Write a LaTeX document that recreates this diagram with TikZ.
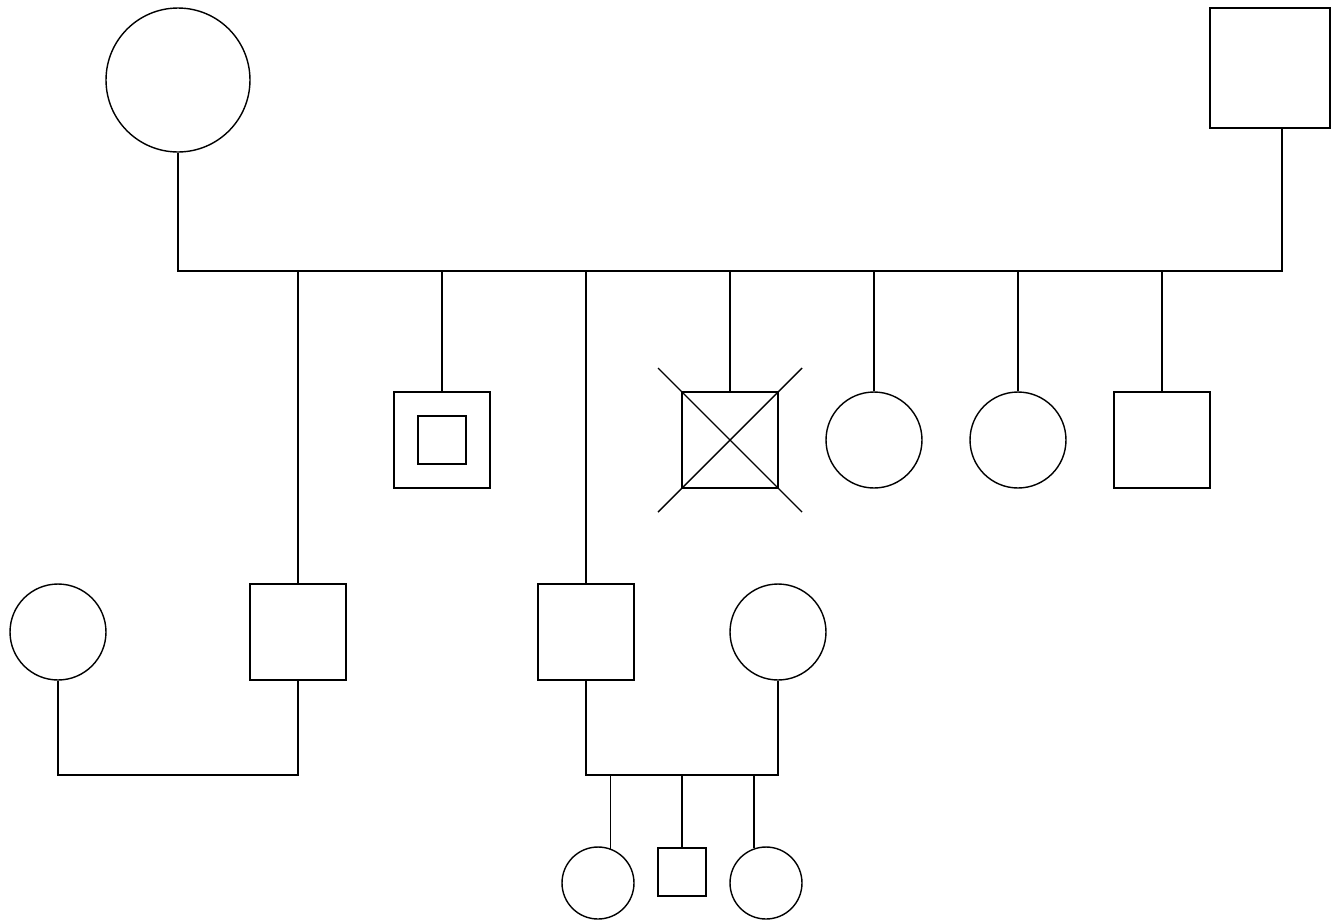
\documentclass[tikz,border=0pt]{standalone}
\usepackage{tikz}
\usetikzlibrary{shapes}
\usetikzlibrary{positioning}

\begin{document}
\begin{tikzpicture}[x=0.02cm, y=-0.02cm, line width=0.8pt,
  female/.style={draw, circle, inner sep=0pt, minimum size=1.92cm},
  male/.style={draw, rectangle, inner sep=0pt, minimum size=1.92cm}]
\useasboundingbox (0,0) rectangle (1332,920);
% first generation
\node[female, minimum size=2.88cm] (gm) at (178,80) {};
\node[male, minimum size=2.4cm] (gf) at (1270,68) {};
\coordinate (g1) at (178,271);
\coordinate (g2) at (1282,271);
\draw (gm.south) -- (g1) -- (g2) -- (g2 |- gf.south);
% second generation
\node[male] (s1) at (298,632) {};
\node[male] (s2) at (442,440) {};
\node[draw, rectangle, inner sep=0pt, minimum size=0.96cm] (s2in) at (s2) {};
\node[male] (s3) at (586,632) {};
\node[male] (s4) at (730,440) {};
\draw (s4.center) ++(-72,-72) coordinate (x1) ++(144,144) coordinate (x2);
\draw (s4.center) ++(72,-72) coordinate (x3) ++(-144,144) coordinate (x4);
\draw (x1) -- (x2);
\draw (x3) -- (x4);
\node[female] (d1) at (874,440) {};
\node[female] (d2) at (1018,440) {};
\node[male] (s5) at (1162,440) {};
\foreach \k in {s1,s2,s3,s4,d1,d2,s5}
  \draw (\k.north) -- (\k.north |- g1);
% spouses
\node[female] (w1) at (58,632) {};
\node[female] (w3) at (778,632) {};
\coordinate (m1) at (58,775);
\coordinate (m3) at (586,775);
\draw (w1.south) -- (m1) -| (s1.south);
\draw (s3.south) -- (m3) -| (w3.south);
% third generation
\node[female, minimum size=1.44cm] (k1) at (598,883) {};
\node[male, minimum size=0.96cm] (k2) at (682,872) {};
\node[female, minimum size=1.44cm] (k3) at (766,883) {};
\draw (k1.70.5) -- (k1.70.5 |- m3);
\draw (k2.north) -- (k2.north |- m3);
\draw (k3.109.5) -- (k3.109.5 |- m3);
\end{tikzpicture}
\end{document}
